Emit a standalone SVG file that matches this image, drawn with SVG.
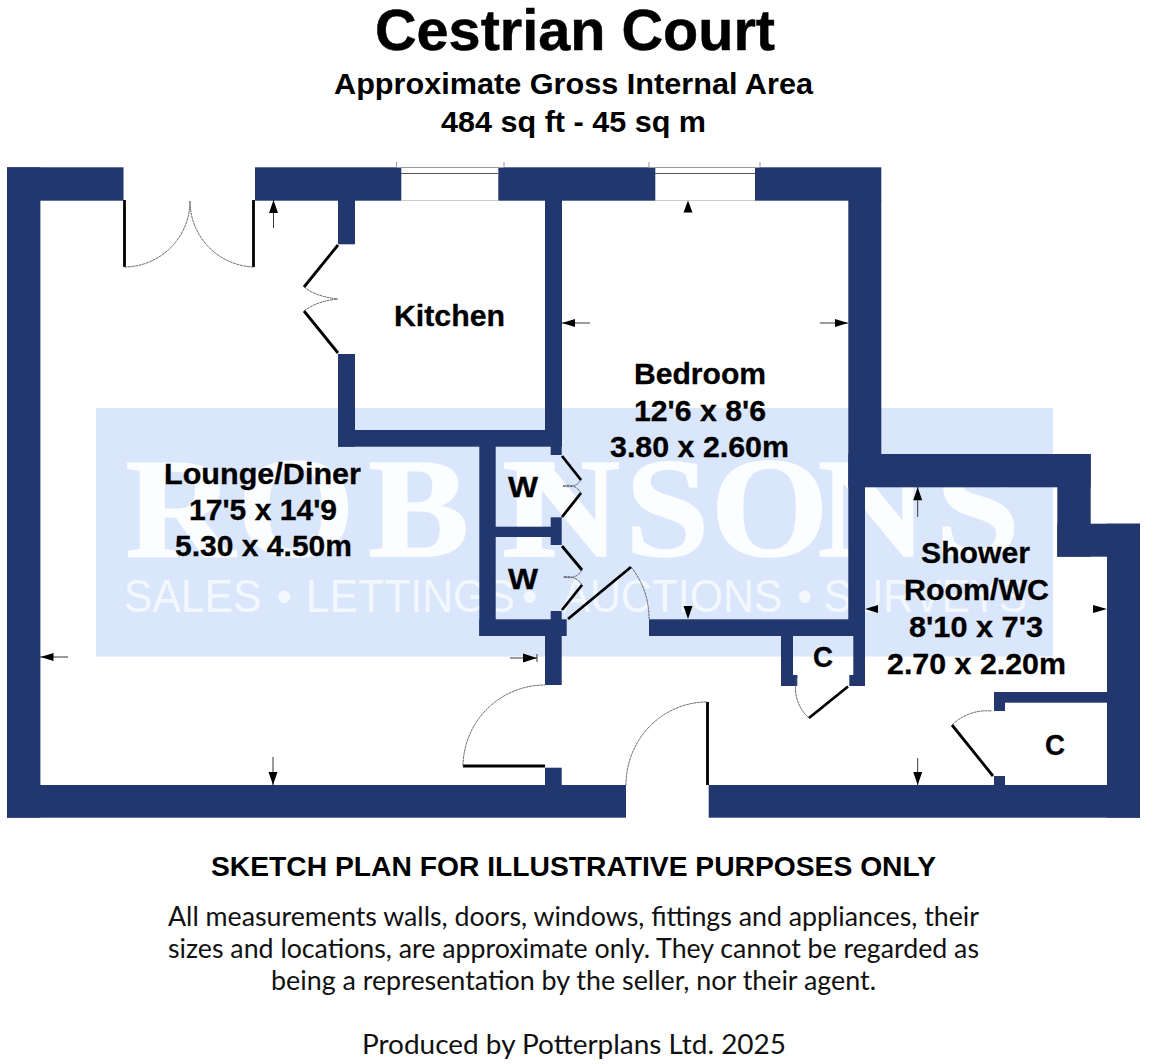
<svg xmlns="http://www.w3.org/2000/svg" width="1154" height="1064" viewBox="0 0 1154 1064">
<style>
.w{fill:#21376e}
.leaf{stroke:#000;stroke-width:2.8;fill:none}
.arc{stroke:#555;stroke-width:.9;fill:none;stroke-dasharray:3 .6}
.dim{stroke:#222;stroke-width:.9;fill:none}
.head{fill:#000}
.win{stroke-width:1;fill:none}
text{font-family:"Liberation Sans",Arial,sans-serif;fill:#000}
.r{font-weight:700;font-size:29px;stroke:#000;stroke-width:.3}
.t{font-weight:700}
.b{font-family:Lato,"Open Sans",sans-serif;font-size:26px;fill:#111}
</style>
<rect width="1154" height="1064" fill="#fff"/>
<g id="watermark">
<rect x="96" y="408" width="957" height="248.500" fill="#d9e6fb"/>
<text transform="scale(1.07 1)" x="117 221 344 467 477 584 664 764 874" y="556" style="font-family:'Liberation Serif',serif;fill:#fbfdff;stroke:#fbfdff;stroke-width:1.5;font-weight:700" font-size="142">ROBINSONS</text>
<text transform="scale(.91 1)" y="612" style="fill:#f3f7fe" font-size="47"><tspan x="136">SALES </tspan><tspan x="304">• </tspan><tspan x="336">LETTINGS </tspan><tspan x="574">• </tspan><tspan x="617">AUCTIONS </tspan><tspan x="876">• </tspan><tspan x="905">SURVEYS</tspan></text>
</g>
<g id="walls" class="w">
<rect x="7" y="167.300" width="116.500" height="33.400"/>
<rect x="7" y="167.300" width="33.400" height="650.400"/>
<rect x="255" y="167.300" width="146.300" height="33.400"/>
<rect x="498.300" y="167.300" width="157" height="33.400"/>
<rect x="755" y="167.300" width="126.300" height="33.400"/>
<rect x="338" y="200" width="17" height="44.300"/>
<rect x="338" y="354" width="17" height="92.700"/>
<rect x="338" y="430" width="224" height="16.700"/>
<rect x="545" y="200" width="17" height="246"/>
<rect x="550.700" y="446" width="11" height="9"/>
<rect x="479.300" y="446" width="16.400" height="190"/>
<rect x="495" y="526.700" width="56" height="10.300"/>
<rect x="550.700" y="517.300" width="11" height="27.700"/>
<rect x="550.700" y="611" width="11" height="9"/>
<rect x="479.300" y="619.300" width="87.400" height="16.700"/>
<rect x="545" y="635" width="16.700" height="50"/>
<rect x="545" y="767.700" width="16.700" height="18"/>
<rect x="7" y="785" width="619" height="32.700"/>
<rect x="708.700" y="785" width="431.300" height="32.700"/>
<rect x="649" y="619.300" width="216" height="16.700"/>
<rect x="781" y="635" width="12" height="51"/>
<rect x="781" y="675" width="16.300" height="11"/>
<rect x="849.300" y="675" width="15.700" height="11"/>
<rect x="853.300" y="487" width="11.700" height="199"/>
<rect x="848.300" y="200" width="33" height="254"/>
<rect x="848.300" y="454" width="16.700" height="170"/>
<rect x="848.300" y="454" width="242.400" height="33.300"/>
<rect x="1057.300" y="454" width="33.400" height="102.700"/>
<rect x="1057.300" y="523.700" width="82.700" height="33"/>
<rect x="1107" y="523.700" width="33" height="294"/>
<rect x="994" y="692" width="113.500" height="10.700"/>
<rect x="994" y="692" width="11" height="19"/>
<rect x="994" y="776" width="11" height="10"/>
</g>
<g id="windows">
<path class="win" stroke="#999" d="M396.500 167.500H504M649 167.500H760M396.500 162V167M504 162V167M649 162V167M760 162V167"/>
<path class="win" stroke="#555" stroke-width="1.500" d="M401 173.500H498M655 173.500H755"/>
<path class="win" stroke="#ccc" d="M401 200.500H498M655 200.500H755"/>
</g>
<g id="doors">
<path class="leaf" d="M124.500 200V267M253.500 200V267M338 245L304 287M304 311L338 353M562 456L581 480M581 493L562 517M562 546L582 570M582 585L562 610M568 619L631 567M463 766H545M707.500 702V785M848 686.500L809 718M993 776L952 725"/>
<path class="arc" d="M124.500 267A66 66 0 0 0 190 201M253.500 267A66 66 0 0 1 190 201M304 287Q317 297 338 299M304 311Q317 301 338 299M581 480Q575 489 563 486M581 493Q575 483 563 486M582 570Q576 580 563 577M582 585Q576 575 563 577M631 567A81 81 0 0 1 649 619M463 766A82 82 0 0 1 545 685M707 702A81 83 0 0 0 626 785M809 718A40 40 0 0 1 797.300 676M952 725A50 50 0 0 1 992 711"/>
</g>
<g id="dimensions">
<path class="dim" d="M273.500 200V228M273 757V785M40 657H68M510 658H537M537 654V662M562 323H590M848 323H820M917.700 487V517M917.700 758V785"/>
<path class="head" d="M273.500 200l-4.500 13h9zM273 785l-4.500 -13h9zM40.500 657l13 -4v8zM537 658l-14 -4.500v9zM562 323l13 -4v8zM848 323l-13 -4v8zM688 200.500l-4.500 12h9zM688 619l-4.500 -13h9zM917.700 487.300l-4.500 13h9zM917.700 785l-4.500 -13h9zM865 609l13 -4v8zM1107 609l-14 -4v8z"/>
</g>
<g id="title">
<text class="t" x="375" y="50" font-size="57.600" textLength="400" style="stroke:#000;stroke-width:.5">Cestrian Court</text>
<text class="t" x="334" y="94" font-size="29" textLength="479" lengthAdjust="spacingAndGlyphs">Approximate Gross Internal Area</text>
<text class="t" x="441" y="132" font-size="29" textLength="265" lengthAdjust="spacingAndGlyphs">484 sq ft - 45 sq m</text>
</g>
<g id="kitchen"><text class="r" x="394" y="326" textLength="111" lengthAdjust="spacingAndGlyphs">Kitchen</text></g>
<g id="bedroom">
<text class="r" x="634" y="384" textLength="132" lengthAdjust="spacingAndGlyphs">Bedroom</text>
<text class="r" x="634" y="421" textLength="132" lengthAdjust="spacingAndGlyphs">12'6 x 8'6</text>
<text class="r" x="610" y="457" textLength="179" lengthAdjust="spacingAndGlyphs">3.80 x 2.60m</text>
</g>
<g id="lounge">
<text class="r" x="164" y="484" textLength="197" lengthAdjust="spacingAndGlyphs">Lounge/Diner</text>
<text class="r" x="189" y="520" textLength="148" lengthAdjust="spacingAndGlyphs">17'5 x 14'9</text>
<text class="r" x="175" y="556" textLength="177" lengthAdjust="spacingAndGlyphs">5.30 x 4.50m</text>
</g>
<g id="shower">
<text class="r" x="921" y="563" textLength="109" lengthAdjust="spacingAndGlyphs">Shower</text>
<text class="r" x="904" y="600" textLength="145" lengthAdjust="spacingAndGlyphs">Room/WC</text>
<text class="r" x="909" y="637" textLength="134" lengthAdjust="spacingAndGlyphs">8'10 x 7'3</text>
<text class="r" x="887" y="674" textLength="179" lengthAdjust="spacingAndGlyphs">2.70 x 2.20m</text>
</g>
<g id="cupboards">
<text class="r" x="508" y="497" textLength="30" lengthAdjust="spacingAndGlyphs">W</text>
<text class="r" x="508" y="589" textLength="30" lengthAdjust="spacingAndGlyphs">W</text>
<text class="r" x="813" y="667" textLength="20" lengthAdjust="spacingAndGlyphs">C</text>
<text class="r" x="1045" y="755" textLength="20" lengthAdjust="spacingAndGlyphs">C</text>
</g>
<g id="notes">
<text class="t" x="211" y="876" font-size="27" textLength="725" lengthAdjust="spacingAndGlyphs">SKETCH PLAN FOR ILLUSTRATIVE PURPOSES ONLY</text>
<text class="b" x="168" y="926" textLength="811" lengthAdjust="spacingAndGlyphs">All measurements walls, doors, windows, fittings and appliances, their</text>
<text class="b" x="168" y="958" textLength="811" lengthAdjust="spacingAndGlyphs">sizes and locations, are approximate only. They cannot be regarded as</text>
<text class="b" x="271" y="990" textLength="605" lengthAdjust="spacingAndGlyphs">being a representation by the seller, nor their agent.</text>
<text class="b" x="362" y="1054" textLength="424" lengthAdjust="spacingAndGlyphs">Produced by Potterplans Ltd. 2025</text>
</g>
</svg>
